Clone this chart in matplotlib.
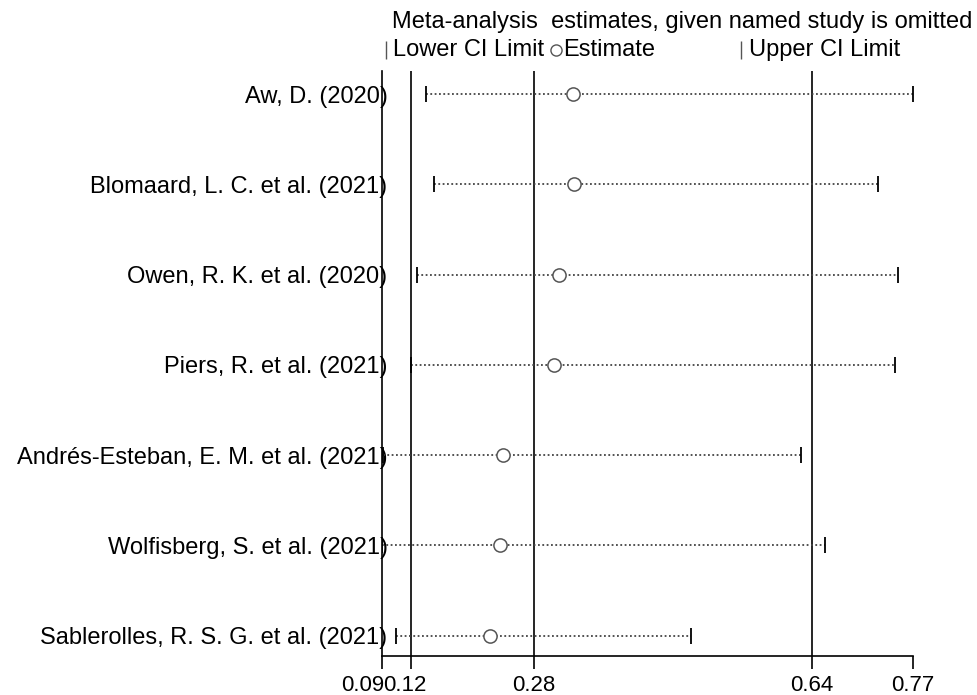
import matplotlib
matplotlib.use("Agg")
import matplotlib.pyplot as plt
from matplotlib.lines import Line2D
from matplotlib.transforms import ScaledTranslation

plt.rcParams['font.family'] = ['Liberation Sans', 'DejaVu Sans']

studies = ["Aw, D. (2020)", "Blomaard, L. C. et al. (2021)", "Owen, R. K. et al. (2020)",
           "Piers, R. et al. (2021)", "Andrés-Esteban, E. M. et al. (2021)",
           "Wolfisberg, S. et al. (2021)", "Sablerolles, R. S. G. et al. (2021)"]
lower = [0.1422, 0.1525, 0.1307, 0.1234, 0.0875, 0.0862, 0.1040]
estimate = [0.3307, 0.3327, 0.3131, 0.3067, 0.2413, 0.2375, 0.2243]
upper = [0.7666, 0.7225, 0.7474, 0.7439, 0.6234, 0.6541, 0.4824]

overall_lower = 0.1230
overall_est = 0.2807
overall_upper = 0.6370
x_min = 0.0862
x_max = 0.7666
tick_vals = [x_min, overall_lower, overall_est, overall_upper, x_max]
tick_labels = ["0.09", "0.12", "0.28", "0.64", "0.77"]

W, H = 978, 695
fig = plt.figure(figsize=(W / 100, H / 100), dpi=100)
ax = fig.add_axes([382 / W, (H - 656) / H, (912.7 - 382) / W, (656 - 71) / H])

n = len(studies)
ys = list(range(n, 0, -1))

for y, lo, est, up in zip(ys, lower, estimate, upper):
    ax.plot([lo, up], [y, y], color='#444444', lw=1.3, linestyle=(0, (1, 1.4)), zorder=2)
    ax.plot([lo, up], [y, y], linestyle='none', marker='|', ms=12, mew=1.3, color='black', zorder=3)
    ax.plot([est], [y], linestyle='none', marker='o', ms=9.5, mfc='white', mec='#555555', mew=1.1, zorder=4)

for v in [overall_lower, overall_est, overall_upper]:
    ax.axvline(v, color='black', lw=1.2, zorder=1)

ax.set_xlim(x_min, x_max)
ax.set_ylim(0.775, 7.255)
ax.set_xticks(tick_vals)
ax.set_xticklabels(tick_labels, fontsize=16)
ax.tick_params(axis='x', length=9, width=1.2, pad=5)
xl = ax.get_xticklabels()
xl[0].set_transform(xl[0].get_transform() + ScaledTranslation(-19 / 100, 0, fig.dpi_scale_trans))
xl[1].set_transform(xl[1].get_transform() + ScaledTranslation(-6 / 100, 0, fig.dpi_scale_trans))
ax.set_yticks(ys)
ax.set_yticklabels(studies, fontsize=17)
ax.tick_params(axis='y', length=0, pad=-4)
for s in ['top', 'right']:
    ax.spines[s].set_visible(False)
for s in ['left', 'bottom']:
    ax.spines[s].set_linewidth(1.2)

# legend / title
fig.text(682 / W, 1 - 22 / H, "Meta-analysis  estimates, given named study is omitted",
         ha='center', va='center', fontsize=17)
fig.add_artist(Line2D([386 / W], [1 - 50 / H], marker='|', ms=13, mew=1.0, color='#555555',
                      transform=fig.transFigure))
fig.text(393 / W, 1 - 50 / H, "Lower CI Limit", ha='left', va='center', fontsize=17)
fig.add_artist(Line2D([556 / W], [1 - 50 / H], marker='o', ms=8, mfc='white', mec='#555555', mew=1.0,
                      transform=fig.transFigure))
fig.text(563 / W, 1 - 50 / H, "Estimate", ha='left', va='center', fontsize=17)
fig.add_artist(Line2D([741 / W], [1 - 50 / H], marker='|', ms=13, mew=1.0, color='#555555',
                      transform=fig.transFigure))
fig.text(749 / W, 1 - 50 / H, "Upper CI Limit", ha='left', va='center', fontsize=17)

fig.savefig("out.png", dpi=100)
